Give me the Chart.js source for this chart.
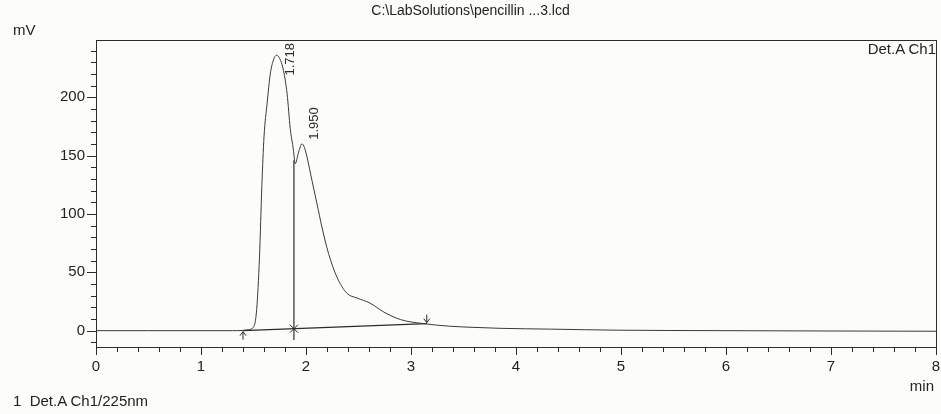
<!DOCTYPE html>
<html lang="en">
<head>
    <meta charset="UTF-8" />
    <title>pencillin chromatogram</title>
    <script src="https://cdn.jsdelivr.net/npm/chart.js"></script>
    <style>
        html, body { margin: 0; padding: 0; background: #fcfcf8; }
        .wrap { position: relative; width: 941px; height: 414px; font-family: "Liberation Sans", Arial, sans-serif; color: #222; }
        .wrap canvas { position: absolute; left: 0; top: 0; }
        .lbl { position: absolute; line-height: 1; white-space: pre; }
    </style>
</head>
<body>
<div class="wrap">
    <canvas id="chrom" width="941" height="414"></canvas>
    <div class="lbl" style="left:0; width:941px; text-align:center; top:3px; font-size:14px;">C:\LabSolutions\pencillin ...3.lcd</div>
    <div class="lbl" style="left:13px; top:22px; font-size:15px;">mV</div>
    <div class="lbl" style="right:5px; top:41px; font-size:15px;">Det.A Ch1</div>
    <div class="lbl" style="right:7px; top:378px; font-size:15px;">min</div>
    <div class="lbl" style="left:13px; top:393px; font-size:15px;">1  Det.A Ch1/225nm</div>
</div>

<script>
    // chromatogram trace (min, mV)
    const timeMin  = [0, 0.5, 1.0, 1.3, 1.40, 1.45, 1.50, 1.53, 1.557, 1.58, 1.60, 1.63, 1.66, 1.69, 1.72, 1.75, 1.78, 1.82, 1.85, 1.88, 1.897, 1.93, 1.961, 1.985, 2.009, 2.056, 2.104, 2.151, 2.215, 2.294, 2.39, 2.485, 2.61, 2.74, 2.90, 3.12, 3.37, 3.60, 3.85, 4.33, 4.97, 6.0, 7.0, 8.0];
    const signalMv = [0, 0, 0, 0, 0.2, 0.8, 3, 18, 63, 125, 166, 195, 220, 232, 236, 233, 225, 203, 173, 155, 143, 153, 160, 157, 149, 129, 109, 89, 66, 46, 32, 28, 23.6, 16, 9.5, 6, 3.8, 2.8, 2, 1.3, 0.4, 0, -0.3, -0.5];

    // integration baseline and drop line
    const baseTime = [1.40, 3.15];
    const baseMv   = [0, 6];
    const dropTime = 1.885;
    const dropMv   = [-8, 146];

    // peak annotations
    const peakTimes  = [1.718, 1.950];
    const peakMv     = [236, 161];
    const peakLabels = ['1.718', '1.950'];

    const xTickValues = [0, 1, 2, 3, 4, 5, 6, 7, 8];
    const yTickValues = [0, 50, 100, 150, 200];
    const xMinorStep = 0.2;
    const yMinorStep = 10;

    const ink = '#2b2b2b';

    function baseAt(t) {
        return baseMv[0] + (baseMv[1] - baseMv[0]) * (t - baseTime[0]) / (baseTime[1] - baseTime[0]);
    }

    // frame, tick marks, integration markers and rotated peak labels
    const decor = {
        id: 'decor',
        afterDatasetsDraw(chart) {
            const { ctx, chartArea: a, scales: { x, y } } = chart;
            ctx.save();
            ctx.strokeStyle = ink;
            ctx.lineWidth = 1;
            ctx.strokeRect(a.left + 0.5, a.top + 0.5, a.right - a.left, a.bottom - a.top);

            ctx.beginPath();
            for (let v = x.min; v <= x.max + 1e-9; v += xMinorStep) {
                const px = Math.round(x.getPixelForValue(v)) + 0.5;
                const major = xTickValues.some(t => Math.abs(t - v) < 1e-6);
                ctx.moveTo(px, a.bottom);
                ctx.lineTo(px, a.bottom + (major ? 8 : 5));
            }
            for (let v = -10; v <= y.max; v += yMinorStep) {
                const py = Math.round(y.getPixelForValue(v)) + 0.5;
                const major = yTickValues.includes(v);
                ctx.moveTo(a.left, py);
                ctx.lineTo(a.left - (major ? 9 : 5), py);
            }
            ctx.stroke();

            // start arrow (up), end arrow (down), star at drop point
            ctx.beginPath();
            let sx = x.getPixelForValue(baseTime[0]), sy = y.getPixelForValue(baseMv[0]);
            ctx.moveTo(sx, sy + 9); ctx.lineTo(sx, sy + 1);
            ctx.moveTo(sx - 3, sy + 5); ctx.lineTo(sx, sy + 1); ctx.lineTo(sx + 3, sy + 5);
            let ex = x.getPixelForValue(baseTime[1]), ey = y.getPixelForValue(baseMv[1]);
            ctx.moveTo(ex, ey - 9); ctx.lineTo(ex, ey - 1);
            ctx.moveTo(ex - 3, ey - 5); ctx.lineTo(ex, ey - 1); ctx.lineTo(ex + 3, ey - 5);
            let dx = x.getPixelForValue(dropTime), dy = y.getPixelForValue(baseAt(dropTime));
            ctx.moveTo(dx - 4, dy - 4); ctx.lineTo(dx + 4, dy + 4);
            ctx.moveTo(dx + 4, dy - 4); ctx.lineTo(dx - 4, dy + 4);
            ctx.stroke();

            ctx.fillStyle = ink;
            ctx.font = '13px "Liberation Sans", Arial, sans-serif';
            ctx.textBaseline = 'middle';
            ctx.textAlign = 'left';
            peakLabels.forEach((txt, i) => {
                const px = x.getPixelForValue(peakTimes[i]) + 14;
                const w = ctx.measureText(txt).width;
                const start = Math.max(y.getPixelForValue(peakMv[i]) - 3, a.top + 3 + w);
                ctx.save();
                ctx.translate(px, start);
                ctx.rotate(-Math.PI / 2);
                ctx.fillText(txt, 0, 0);
                ctx.restore();
            });
            ctx.restore();
        }
    };

    const tickFont = { family: '"Liberation Sans", Arial, sans-serif', size: 15 };

    new Chart(document.getElementById('chrom').getContext('2d'), {
        type: 'line',
        data: {
            datasets: [
                {
                    data: timeMin.map((t, i) => ({ x: t, y: signalMv[i] })),
                    borderColor: '#3a3a3a',
                    borderWidth: 1,
                    pointRadius: 0,
                    cubicInterpolationMode: 'monotone'
                },
                {
                    data: baseTime.map((t, i) => ({ x: t, y: baseMv[i] })),
                    borderColor: ink,
                    borderWidth: 1.4,
                    pointRadius: 0
                },
                {
                    data: dropMv.map(v => ({ x: dropTime, y: v })),
                    borderColor: ink,
                    borderWidth: 1.2,
                    pointRadius: 0
                }
            ]
        },
        options: {
            responsive: false,
            animation: false,
            devicePixelRatio: 1,
            layout: { padding: { top: 40, right: 5, left: 0, bottom: 0 } },
            plugins: { legend: { display: false }, tooltip: { enabled: false } },
            scales: {
                x: {
                    type: 'linear',
                    min: 0,
                    max: 8,
                    afterBuildTicks: s => { s.ticks = xTickValues.map(v => ({ value: v })); },
                    afterFit: s => { s.height = 67; s.paddingLeft = 0; s.paddingRight = 0; },
                    grid: { display: false, drawTicks: false },
                    border: { display: false },
                    ticks: { padding: 11, color: '#222', font: tickFont, maxRotation: 0, autoSkip: false }
                },
                y: {
                    type: 'linear',
                    min: -14,
                    max: 249,
                    afterBuildTicks: s => { s.ticks = yTickValues.map(v => ({ value: v })); },
                    afterFit: s => { s.width = 96; s.paddingTop = 0; s.paddingBottom = 0; },
                    grid: { display: false, drawTicks: false },
                    border: { display: false },
                    ticks: { padding: 11, color: '#222', font: tickFont }
                }
            }
        },
        plugins: [decor]
    });
</script>
</body>
</html>
